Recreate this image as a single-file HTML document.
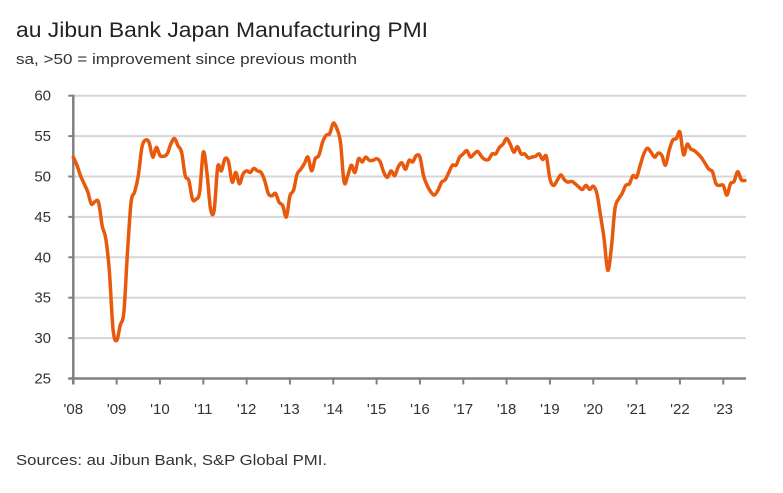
<!DOCTYPE html>
<html><head><meta charset="utf-8"><style>
body{margin:0;background:#fff;width:783px;height:488px;overflow:hidden;font-family:"Liberation Sans",sans-serif}
</style></head><body>
<svg width="783" height="488">
<text x="16" y="37" font-size="21" fill="#222" textLength="412" lengthAdjust="spacingAndGlyphs">au Jibun Bank Japan Manufacturing PMI</text>
<text x="16" y="64" font-size="14.5" fill="#333" textLength="341" lengthAdjust="spacingAndGlyphs">sa, &gt;50 = improvement since previous month</text>
<text x="16" y="465" font-size="14.5" fill="#333" textLength="311" lengthAdjust="spacingAndGlyphs">Sources: au Jibun Bank, S&amp;P Global PMI.</text>
<g id="grid"></g><g id="axes"></g><g id="series"></g>
</svg>
<script>
const yTicks=[25,30,35,40,45,50,55,60];
const xTickLabels=["'08","'09","'10","'11","'12","'13","'14","'15","'16","'17","'18","'19","'20","'21","'22","'23"];
const startYear=2008;
const pmi=[52.4,51.4,50.1,49.1,48.1,46.6,46.9,46.8,43.9,42.3,38.2,31.1,29.7,31.6,33.2,40.6,46.8,48.1,50.1,53.6,54.5,54.2,52.4,53.6,
52.6,52.5,52.8,54.0,54.7,53.8,53.0,50.1,49.5,47.2,47.2,48.1,
53.0,50.5,46.0,45.8,51.2,50.7,52.2,51.8,49.3,50.5,49.1,50.3,
50.7,50.5,51.0,50.7,50.5,49.5,47.9,47.6,47.9,46.8,46.4,45.0,
47.6,48.3,50.3,50.9,51.6,52.4,50.7,52.2,52.6,54.2,55.1,55.3,
56.6,55.9,54.2,49.3,50.1,51.4,50.5,52.2,51.8,52.4,52.0,52.0,
52.2,51.8,50.5,49.9,50.7,50.1,51.2,51.7,50.9,52.0,51.8,52.6,
52.4,50.1,48.9,48.1,47.7,48.3,49.3,49.6,50.5,51.4,51.4,52.4,
52.8,53.2,52.4,52.8,53.1,52.5,52.1,52.1,52.8,52.8,53.6,54.0,
54.7,54.0,53.0,53.7,52.8,52.8,52.3,52.4,52.5,52.8,52.1,52.5,
49.7,48.9,49.5,50.2,49.6,49.3,49.4,49.1,48.7,48.4,48.9,48.4,
48.8,47.9,45.2,42.3,38.4,41.1,46.0,47.2,47.9,48.9,49.1,50.1,
49.9,51.4,52.8,53.5,53.0,52.4,52.9,52.6,51.4,53.2,54.5,54.7,
55.5,52.7,54.0,53.4,53.2,52.8,52.3,51.6,50.9,50.6,49.1,48.9,
48.9,47.7,49.1,49.4,50.6,49.6,49.5];
const NS="http://www.w3.org/2000/svg";
const x0=73.3,yearW=43.33,y25=378.5,unitH=8.08;
const xScale=m=>x0+m*yearW/12;
const yScale=v=>y25-(v-25)*unitH;
const grid=document.getElementById('grid'),axes=document.getElementById('axes'),ser=document.getElementById('series');
function mk(tag,attrs,parent){const e=document.createElementNS(NS,tag);for(const k in attrs)e.setAttribute(k,attrs[k]);parent.appendChild(e);return e;}
yTicks.forEach(v=>{
  if(v>25){const l=mk('line',{x1:x0,x2:746,y1:yScale(v),y2:yScale(v),stroke:'#d6d6d6','stroke-width':2},grid);
  
  }
  const t=mk('text',{x:51,y:yScale(v)+5,'font-size':15,fill:'#333','text-anchor':'end'},axes);t.textContent=v;
  
  
  mk('line',{x1:x0-5,x2:x0,y1:yScale(v),y2:yScale(v),stroke:'#808080','stroke-width':2},axes);
});
const ya=mk('line',{x1:x0,x2:x0,y1:yScale(60)-1,y2:y25+6,stroke:'#808080','stroke-width':2.5},axes);


const xa=mk('line',{x1:x0-5,x2:746,y1:y25,y2:y25,stroke:'#808080','stroke-width':2.5},axes);


xTickLabels.forEach((lab,i)=>{
  const x=xScale(i*12);
  mk('line',{x1:x,x2:x,y1:y25,y2:y25+6,stroke:'#808080','stroke-width':2},axes);
  const t=mk('text',{x:x,y:414,'font-size':15,fill:'#333','text-anchor':'middle'},axes);t.textContent=lab;
  
  
});
let pts=pmi.map((v,i)=>[xScale(i),yScale(v)]);
let d='M'+pts[0][0]+','+pts[0][1];
for(let i=0;i<pts.length-1;i++){
  const p0=pts[Math.max(0,i-1)],p1=pts[i],p2=pts[i+1],p3=pts[Math.min(pts.length-1,i+2)];
  const c1=[p1[0]+(p2[0]-p0[0])/6,p1[1]+(p2[1]-p0[1])/6],c2=[p2[0]-(p3[0]-p1[0])/6,p2[1]-(p3[1]-p1[1])/6];
  d+=' C'+c1+' '+c2+' '+p2;
}
const path=mk('path',{d:d,fill:'none',stroke:'#e8590c','stroke-width':3.5,'stroke-linejoin':'round','stroke-linecap':'round'},ser);


</script>
</body></html>
